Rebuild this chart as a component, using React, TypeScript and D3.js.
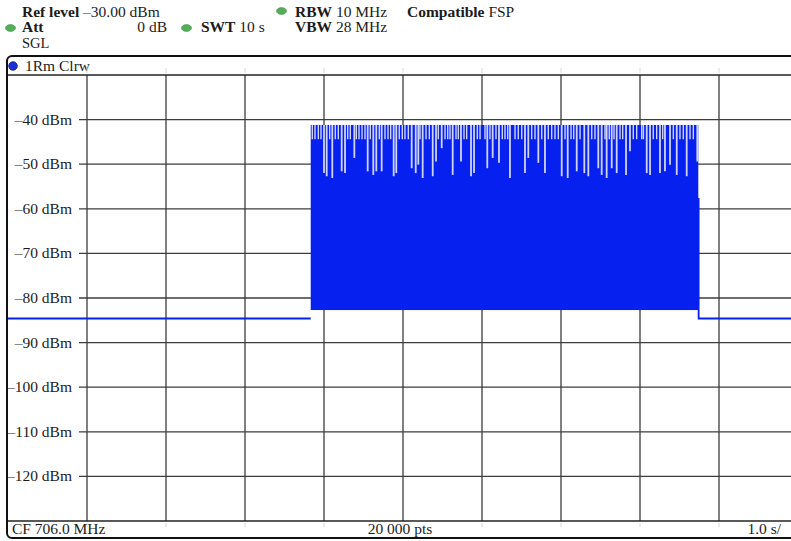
import React from "react";
import * as d3 from "d3";

// Sweep: zero span, 10 s sweep time, 1 s per division
const timeTicks = [0, 1, 2, 3, 4, 5, 6, 7, 8, 9, 10];
const levelTicks = [-40, -50, -60, -70, -80, -90, -100, -110, -120];
const levelLabels = ["–40 dBm", "–50 dBm", "–60 dBm", "–70 dBm", "–80 dBm", "–90 dBm", "–100 dBm", "–110 dBm", "–120 dBm"];

// Trace outside the burst (time s, level dBm)
const preBurstTimes = [0, 3.832];
const preBurstLevels = [-84.6, -84.6];
const postBurstTimes = [8.742, 8.742, 10.2];
const postBurstLevels = [-57.6, -84.6, -84.6];

// Burst envelope
const burstStart = 3.832;
const burstEnd = 8.738;
const burstLow = -82.7;
const burstPeak = -41.2;

// Deep dropouts inside the burst: [time s, lowest level dBm]
const deepDips: [number, number][] = [
  [4.0, -52.0], [4.034, -52.7], [4.105, -53.1], [4.224, -51.6], [4.266, -52.0], [4.384, -48.6],
  [4.553, -51.6], [4.624, -52.4], [4.662, -51.6], [4.73, -51.6], [4.882, -52.7], [4.915, -52.0],
  [5.11, -50.9], [5.161, -52.0], [5.194, -50.1], [5.249, -53.1], [5.376, -52.7], [5.418, -49.4],
  [5.49, -46.4], [5.629, -52.4], [5.734, -49.4], [5.861, -52.7], [5.899, -52.0], [6.067, -50.9],
  [6.135, -48.6], [6.215, -49.7], [6.354, -53.1], [6.544, -52.0], [6.586, -48.6], [6.713, -49.7],
  [6.797, -52.0], [7.009, -52.7], [7.085, -53.1], [7.199, -51.6], [7.295, -52.0], [7.346, -52.7],
  [7.472, -50.9], [7.515, -52.4], [7.578, -53.1], [7.642, -50.9], [7.705, -52.0], [7.823, -52.4],
  [7.873, -47.1], [8.085, -52.0], [8.127, -52.4], [8.253, -52.0], [8.316, -51.6], [8.38, -50.1],
  [8.465, -52.4], [8.591, -52.7], [8.725, -49.4],
];

// Short gaps between peaks near the top of the burst (time s)
const shallowDipTimes = [
  3.852, 3.886, 3.928, 3.962, 4.072, 4.143, 4.181, 4.3, 4.333, 4.409, 4.443, 4.481, 4.519, 4.586,
  4.7, 4.772, 4.81, 4.844, 4.953, 4.991, 5.025, 5.067, 5.215, 5.291, 5.333, 5.447, 5.532, 5.566,
  5.595, 5.671, 5.7, 5.772, 5.806, 5.941, 5.975, 6.038, 6.101, 6.177, 6.257, 6.291, 6.325, 6.418,
  6.459, 6.503, 6.629, 6.671, 6.756, 6.839, 6.882, 6.924, 6.966, 7.051, 7.127, 7.161, 7.241, 7.389,
  7.43, 7.557, 7.611, 7.671, 7.747, 7.781, 7.915, 7.958, 8.022, 8.043, 8.168, 8.211, 8.287, 8.422,
  8.506, 8.548, 8.633, 8.675,
];
const shallowDipLevel = -44.4;

const W = 791;
const H = 541;
const FONT = "'Liberation Serif', 'Times New Roman', serif";
const TEXT = "#1c1c1c";
const TRACE = "#0620f0";
const DIP = "#cfd4f6";
const GRID = "#3c3c3c";

export default function App() {
  const x = d3.scaleLinear().domain([0, 10]).range([8, 798]);
  const y = d3.scaleLinear().domain([-30, -130]).range([75, 521]);
  const line = d3
    .line<[number, number]>()
    .x((d) => x(d[0]))
    .y((d) => y(d[1]));

  const pre = preBurstTimes.map((t, i) => [t, preBurstLevels[i]] as [number, number]);
  const post = postBurstTimes.map((t, i) => [t, postBurstLevels[i]] as [number, number]);

  const greenDot = (cx: number, cy: number) => (
    <ellipse cx={cx} cy={cy} rx={5} ry={3.4} fill="#55ad58" stroke="#3f8f43" strokeWidth={0.6} />
  );

  return (
    <svg
      width={W}
      height={H}
      style={{ position: "absolute", left: 0, top: 0, background: "#fff" }}
      fontFamily={FONT}
      fontSize={15.5}
      fill={TEXT}
    >
      {/* header */}
      <text x={22} y={16.5}>
        <tspan fontWeight="bold">Ref level</tspan>
        <tspan> –30.00 dBm</tspan>
      </text>
      {greenDot(281.5, 11)}
      <text x={295} y={16.5}>
        <tspan fontWeight="bold">RBW</tspan>
        <tspan> 10 MHz</tspan>
      </text>
      <text x={407} y={16.5}>
        <tspan fontWeight="bold">Compatible</tspan>
        <tspan> FSP</tspan>
      </text>
      {greenDot(10.5, 28)}
      <text x={22} y={32} fontWeight="bold">Att</text>
      <text x={167} y={32} textAnchor="end">0 dB</text>
      {greenDot(186.5, 28)}
      <text x={201} y={32}>
        <tspan fontWeight="bold">SWT</tspan>
        <tspan> 10 s</tspan>
      </text>
      <text x={295} y={32}>
        <tspan fontWeight="bold">VBW</tspan>
        <tspan> 28 MHz</tspan>
      </text>
      <text x={22} y={48} fontSize={14.5}>SGL</text>

      {/* diagram frame */}
      <rect x={7} y={56} width={810} height={482} rx={5} fill="#fff" stroke="#111" strokeWidth={2} />
      <circle cx={13} cy={66} r={4.3} fill="#1b2fd6" stroke="#0c1690" strokeWidth={0.8} />
      <text x={25} y={71}>1Rm Clrw</text>

      {/* faint division marks on the header and footer bars */}
      {timeTicks.slice(1).map((t) => (
        <g key={"m" + t}>
          <line x1={x(t)} x2={x(t)} y1={68} y2={73} stroke="#d8d8d8" strokeWidth={1} />
          <line x1={x(t)} x2={x(t)} y1={523} y2={527} stroke="#d8d8d8" strokeWidth={1} />
        </g>
      ))}

      {/* grid */}
      {levelTicks.map((v, i) => (
        <g key={"h" + v}>
          <line x1={79} x2={W} y1={y(v)} y2={y(v)} stroke={GRID} strokeWidth={1.3} />
          <text x={72} y={y(v) + 5} textAnchor="end">{levelLabels[i]}</text>
        </g>
      ))}
      {timeTicks.slice(1).map((t) => (
        <line key={"v" + t} x1={x(t)} x2={x(t)} y1={y(-30)} y2={y(-130)} stroke={GRID} strokeWidth={1.3} />
      ))}
      <line x1={8} x2={W} y1={y(-30)} y2={y(-30)} stroke="#222" strokeWidth={1.3} />
      <line x1={8} x2={W} y1={y(-130)} y2={y(-130)} stroke="#222" strokeWidth={1.3} />

      {/* trace */}
      <path d={line(pre) ?? ""} fill="none" stroke={TRACE} strokeWidth={2} />
      <path d={line(post) ?? ""} fill="none" stroke={TRACE} strokeWidth={1.8} />
      <rect
        x={x(burstStart)}
        y={y(burstPeak)}
        width={x(burstEnd) - x(burstStart)}
        height={y(burstLow) - y(burstPeak)}
        fill={TRACE}
      />
      {shallowDipTimes.map((t) => (
        <line
          key={"s" + t}
          x1={x(t)}
          x2={x(t)}
          y1={y(burstPeak)}
          y2={y(shallowDipLevel)}
          stroke={DIP}
          strokeWidth={1.4}
        />
      ))}
      {deepDips.map(([t, v]) => (
        <line key={"d" + t} x1={x(t)} x2={x(t)} y1={y(burstPeak)} y2={y(v)} stroke={DIP} strokeWidth={1.8} />
      ))}

      {/* footer */}
      <text x={12} y={533.5}>CF 706.0 MHz</text>
      <text x={400} y={533.5} textAnchor="middle">20 000 pts</text>
      <text x={781} y={533.5} textAnchor="end">1.0 s/</text>
    </svg>
  );
}
